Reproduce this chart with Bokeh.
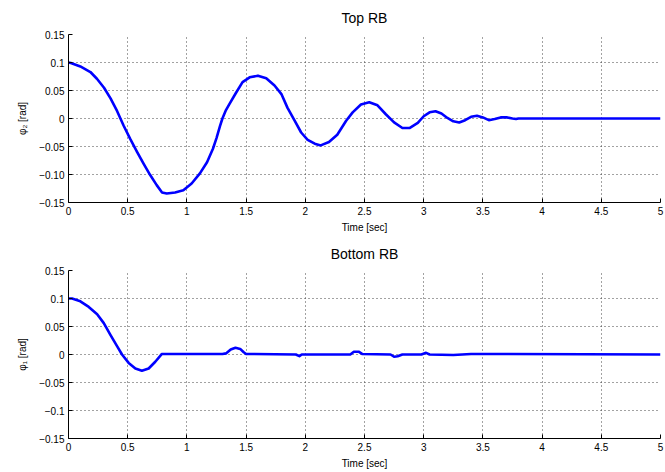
from bokeh.plotting import figure
from bokeh.layouts import column
from bokeh.models import FixedTicker, Range1d
from bokeh.embed import file_html
from bokeh.resources import INLINE

# ---- data ----
t_top = [0.0, 0.02, 0.10, 0.185, 0.24, 0.30, 0.355, 0.41, 0.466, 0.52, 0.58, 0.635,
         0.69, 0.745, 0.79, 0.83, 0.90, 0.97, 1.04, 1.11, 1.17, 1.22, 1.25, 1.28, 1.30,
         1.33, 1.36, 1.415, 1.47, 1.53, 1.60, 1.67, 1.74, 1.80, 1.85, 1.91, 1.965, 2.02,
         2.08, 2.13, 2.20, 2.27, 2.345, 2.40, 2.47, 2.54, 2.61, 2.68, 2.75, 2.82, 2.88,
         2.95, 3.0, 3.05, 3.1, 3.15, 3.2, 3.25, 3.3, 3.35, 3.4, 3.45, 3.5, 3.55, 3.6,
         3.65, 3.7, 3.75, 3.78, 3.8, 5.0]
phi2 = [0.100, 0.099, 0.093, 0.083, 0.071, 0.055, 0.036, 0.0135, -0.013, -0.036,
        -0.060, -0.081, -0.101, -0.119, -0.132, -0.134, -0.132, -0.128, -0.116, -0.098,
        -0.078, -0.054, -0.035, -0.013, 0.000, 0.015, 0.026, 0.046, 0.065, 0.0735,
        0.0765, 0.072, 0.059, 0.043, 0.019, -0.004, -0.025, -0.038, -0.045, -0.048,
        -0.042, -0.029, -0.004, 0.011, 0.025, 0.029, 0.0235, 0.0076, -0.007, -0.017,
        -0.017, -0.008, 0.004, 0.011, 0.013, 0.009, 0.001, -0.005, -0.007, -0.003,
        0.003, 0.005, 0.002, -0.003, -0.001, 0.002, 0.002, 0.000, -0.001, 0.000, 0.000]

t_bot = [0.0, 0.03, 0.10, 0.171, 0.242, 0.298, 0.354, 0.41, 0.452, 0.508, 0.565, 0.62,
         0.677, 0.733, 0.789, 0.8, 1.3, 1.33, 1.37, 1.41, 1.45, 1.48, 1.5, 1.92, 1.95,
         1.97, 2.38, 2.41, 2.45, 2.48, 2.72, 2.75, 2.78, 2.82, 2.98, 3.02, 3.05, 3.25,
         3.4, 5.0]
phi1 = [0.100, 0.100, 0.095, 0.085, 0.072, 0.056, 0.035, 0.015, 0.000, -0.015,
        -0.025, -0.029, -0.025, -0.013, 0.001, 0.001, 0.001, 0.002, 0.009, 0.012,
        0.010, 0.004, 0.001, 0.000, -0.003, 0.000, 0.000, 0.005, 0.005, 0.001, 0.000,
        -0.004, -0.003, 0.000, 0.000, 0.003, 0.000, -0.001, 0.001, 0.000]

x_ticks = [0, 0.5, 1, 1.5, 2, 2.5, 3, 3.5, 4, 4.5, 5]
x_labels = ["0", "0.5", "1", "1.5", "2", "2.5", "3", "3.5", "4", "4.5", "5"]
y_ticks = [-0.15, -0.10, -0.05, 0, 0.05, 0.10, 0.15]
y_labels_top = ["\u22120.15", "\u22120.10", "\u22120.05", "0", "0.05", "0.1", "0.15"]
y_labels_bot = ["\u22120.15", "\u22120.1", "\u22120.05", "0", "0.05", "0.1", "0.15"]

FONT = "Liberation Sans"


def make_panel(title, t, y, ylabel, ylabels):
    p = figure(width=665, height=236, output_backend="svg", toolbar_location=None,
               x_range=Range1d(0, 5), y_range=Range1d(-0.15, 0.15),
               min_border_left=68, min_border_right=5, min_border_top=33,
               min_border_bottom=34, title=title)
    p.title.align = "center"
    p.title.vertical_align = "middle"
    p.title.text_font = FONT
    p.title.text_font_size = "14px"
    p.title.text_font_style = "normal"
    p.title.text_color = "black"
    p.title.standoff = 16
    p.outline_line_color = None
    p.background_fill_color = "white"
    p.border_fill_color = "white"

    p.line(t, y, line_color="#0000ff", line_width=2.6, line_join="round")

    p.xaxis.ticker = FixedTicker(ticks=x_ticks)
    p.xaxis.major_label_overrides = {k: v for k, v in zip(x_ticks, x_labels)}
    p.yaxis.ticker = FixedTicker(ticks=y_ticks)
    p.yaxis.major_label_overrides = {k: v for k, v in zip(y_ticks, ylabels)}
    p.xaxis.axis_label = "Time [sec]"
    p.yaxis.axis_label = ylabel
    for ax in (p.xaxis, p.yaxis):
        ax.axis_line_color = "black"
        ax.major_tick_line_color = "black"
        ax.major_tick_in = 4
        ax.major_tick_out = 0
        ax.minor_tick_line_color = None
        ax.major_label_text_font = FONT
        ax.major_label_text_font_size = "10px"
        ax.major_label_text_color = "black"
        ax.major_label_standoff = 4
        ax.axis_label_text_font = FONT
        ax.axis_label_text_font_size = "10px"
        ax.axis_label_text_font_style = "normal"
        ax.axis_label_text_color = "black"
        ax.axis_label_standoff = 4
    p.yaxis.axis_label_standoff = 8
    for g in (p.xgrid, p.ygrid):
        g.grid_line_color = "#444444"
        g.grid_line_dash = "1 3"
        g.grid_line_width = 1
    return p


p1 = make_panel("Top RB", t_top, phi2, "\u03c6\u2082 [rad]", y_labels_top)
p2 = make_panel("Bottom RB", t_bot, phi1, "\u03c6\u2081 [rad]", y_labels_bot)

layout = column(p1, p2, spacing=0)
open("out.html", "w").write(file_html(layout, INLINE))
